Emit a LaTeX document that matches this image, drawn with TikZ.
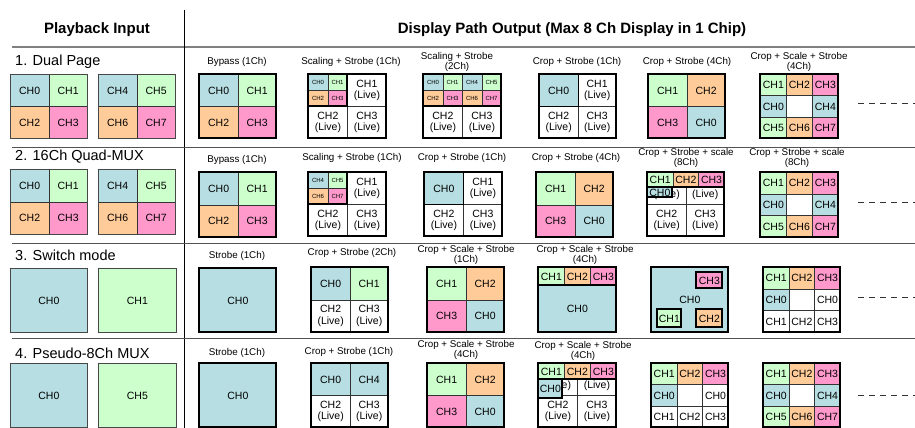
\documentclass[tikz,border=0pt]{standalone}
\usepackage{fontspec}
\setmainfont{Liberation Sans}
\usepackage{xcolor}
\definecolor{cBlue}{HTML}{B7DEE2}
\definecolor{cGreen}{HTML}{CCFFCC}
\definecolor{cOrange}{HTML}{FFCC99}
\definecolor{cPink}{HTML}{FF99CC}
\definecolor{cLine}{HTML}{333333}
\definecolor{cRule}{HTML}{808080}
\usetikzlibrary{positioning}
\newcommand{\chfont}{\fontsize{10.5}{11.5}\selectfont}
\newcommand{\tinychfont}{\fontsize{6}{7}\selectfont}
\newcommand{\capfont}{\fontsize{9.8}{10.5}\selectfont}
\tikzset{
  node-cell/.style={draw=cLine,line width=0.8pt,anchor=north west,
    inner sep=0pt,align=center,font=\chfont},
  node-tiny/.style={font=\tinychfont,line width=0.6pt},
  cell-blue/.style={fill=cBlue},
  cell-green/.style={fill=cGreen},
  cell-orange/.style={fill=cOrange},
  cell-pink/.style={fill=cPink},
  cell-white/.style={fill=white},
  grid-frame/.style={draw=black,line width=1.3pt},
  node-caption/.style={font=\capfont,align=center,inner sep=0pt},
  node-title/.style={font=\fontsize{14.5}{16}\selectfont,anchor=west,inner sep=0pt},
  node-head/.style={font=\bfseries\fontsize{15}{17}\selectfont},
  rule-head/.style={draw=cRule,line width=2pt},
  rule-row/.style={draw=cLine!85,line width=1pt},
  rule-col/.style={draw=black,line width=1pt},
  more-dash/.style={draw=cLine,line width=1pt,dash pattern=on 6pt off 5pt},
}

% \chgrid[cell opts]{name}{x}{y}{w}{h}{cols}{rows}{colour/text,...}
\newcommand{\chgrid}[9][]{%
  \foreach \cfill/\ctext [count=\gi from 0] in {#9} {
    \pgfmathtruncatemacro{\gx}{mod(\gi,#7)}
    \pgfmathtruncatemacro{\gy}{\gi/#7}
    \node[node-cell,cell-\cfill,#1,minimum width=#5pt/#7,minimum height=#6pt/#8]
      (#2-\gi) at ({#3+\gx*#5/#7},{#4+\gy*#6/#8}) {\ctext};
  }
  \draw[grid-frame] (#3,#4) rectangle ++(#5,#6);
}

\begin{document}
\begin{tikzpicture}[x=1pt,y=-1pt]
  \useasboundingbox (0,0) rectangle (915,428);

  \node[node-head] (head-in) at (97,30) {Playback Input};
  \node[node-head] (head-out) at (572,30) {Display Path Output (Max 8 Ch Display in 1 Chip)};
  \draw[rule-head] (12,47) -- (915,47);
  \draw[rule-col] (184,10) -- (184,428);
  \foreach \ry in {147,243,338}
    \draw[rule-row] (12,\ry) -- (915,\ry);

  % playback inputs
  \begin{scope}[grid-frame/.style={draw=cLine!90,line width=1pt}]
    \node[node-title] (title1) at (15,62) {1. Dual Page};
    \chgrid{in1a}{10}{74}{77}{64}{2}{2}{blue/CH0,green/CH1,orange/CH2,pink/CH3}
    \chgrid{in1b}{98}{74}{77}{64}{2}{2}{blue/CH4,green/CH5,orange/CH6,pink/CH7}
    \node[node-title] (title2) at (15,157) {2. 16Ch Quad-MUX};
    \chgrid{in2a}{10}{169}{77}{65}{2}{2}{blue/CH0,green/CH1,orange/CH2,pink/CH3}
    \chgrid{in2b}{98}{169}{77}{65}{2}{2}{blue/CH4,green/CH5,orange/CH6,pink/CH7}
    \node[node-title] (title3) at (15,255) {3. Switch mode};
    \chgrid{in3a}{10}{268}{77}{64}{1}{1}{blue/CH0}
    \chgrid{in3b}{98}{268}{78}{64}{1}{1}{green/CH1}
    \node[node-title] (title4) at (15,353) {4. Pseudo-8Ch MUX};
    \chgrid{in4a}{10}{363}{77}{64}{1}{1}{blue/CH0}
    \chgrid{in4b}{98}{363}{78}{64}{1}{1}{green/CH5}
  \end{scope}

  % 1. Dual Page
  \node[node-caption] (cap1a) at (237,62) {Bypass (1Ch)};
  \chgrid{out1a}{199}{74}{77}{64}{2}{2}{blue/CH0,green/CH1,orange/CH2,pink/CH3}
  \node[node-caption] (cap1b) at (351,62) {Scaling + Strobe (1Ch)};
  \chgrid{out1b}{308}{74}{78}{64}{2}{2}{white/{},white/CH1\\(Live),white/CH2\\(Live),white/CH3\\(Live)}
  \chgrid[node-tiny]{out1b-s}{308}{74}{39}{32}{2}{2}{blue/CH0,green/CH1,orange/CH2,pink/CH3}
  \node[node-caption] (cap1c) at (457,62) {Scaling + Strobe\\(2Ch)};
  \chgrid{out1c}{423}{74}{78}{64}{2}{2}{white/{},white/{},white/CH2\\(Live),white/CH3\\(Live)}
  \chgrid[node-tiny]{out1c-s}{423}{74}{78}{32}{4}{2}{blue/CH0,green/CH1,blue/CH4,green/CH5,orange/CH2,pink/CH3,orange/CH6,pink/CH7}
  \node[node-caption] (cap1d) at (577,62) {Crop + Strobe (1Ch)};
  \chgrid{out1d}{539}{74}{77}{64}{2}{2}{blue/CH0,white/CH1\\(Live),white/CH2\\(Live),white/CH3\\(Live)}
  \draw[grid-frame] (out1d-0.north west) rectangle (out1d-0.south east);
  \node[node-caption] (cap1e) at (687,62) {Crop + Strobe (4Ch)};
  \chgrid{out1e}{648}{74}{77}{64}{2}{2}{green/CH1,orange/CH2,pink/CH3,blue/CH0}
  \node[node-caption] (cap1f) at (799,62) {Crop + Scale + Strobe\\(4Ch)};
  \chgrid{out1f}{760}{74}{78}{64}{3}{3}{green/CH1,orange/CH2,pink/CH3,blue/CH0,white/{},blue/CH4,green/CH5,orange/CH6,pink/CH7}
  \coordinate (more1) at (858,103);
  \coordinate (end1) at (915,103);
  \draw[more-dash] (more1) -- (end1);

  % 2. 16Ch Quad-MUX
  \node[node-caption] (cap2a) at (237,160) {Bypass (1Ch)};
  \chgrid{out2a}{199}{172}{77}{65}{2}{2}{blue/CH0,green/CH1,orange/CH2,pink/CH3}
  \node[node-caption] (cap2b) at (352,158) {Scaling + Strobe (1Ch)};
  \chgrid{out2b}{308}{172}{78}{64}{2}{2}{white/{},white/CH1\\(Live),white/CH2\\(Live),white/CH3\\(Live)}
  \chgrid[node-tiny]{out2b-s}{308}{172}{39}{32}{2}{2}{blue/CH4,green/CH5,orange/CH6,pink/CH7}
  \node[node-caption] (cap2c) at (462,158) {Crop + Strobe (1Ch)};
  \chgrid{out2c}{424}{172}{78}{64}{2}{2}{blue/CH0,white/CH1\\(Live),white/CH2\\(Live),white/CH3\\(Live)}
  \draw[grid-frame] (out2c-0.north west) rectangle (out2c-0.south east);
  \node[node-caption] (cap2d) at (576,158) {Crop + Strobe (4Ch)};
  \chgrid{out2d}{536}{172}{77}{65}{2}{2}{green/CH1,orange/CH2,pink/CH3,blue/CH0}
  \node[node-caption] (cap2e) at (686,158) {Crop + Strobe + scale\\(8Ch)};
  \chgrid{out2e}{647}{172}{77}{64}{2}{2}{white/\strut\\(Live),white/\strut\\(Live),white/CH2\\(Live),white/CH3\\(Live)}
  \chgrid{out2e-s}{647}{172}{77}{15}{3}{1}{green/CH1,orange/CH2,pink/CH3}
  \chgrid{out2e-c0}{647}{187}{25}{10}{1}{1}{blue/CH0}
  \node[node-caption] (cap2f) at (797,158) {Crop + Strobe + scale\\(8Ch)};
  \chgrid{out2f}{760}{172}{78}{65}{3}{3}{green/CH1,orange/CH2,pink/CH3,blue/CH0,white/{},blue/CH4,green/CH5,orange/CH6,pink/CH7}
  \coordinate (more2) at (858,202);
  \coordinate (end2) at (915,202);
  \draw[more-dash] (more2) -- (end2);

  % 3. Switch mode
  \node[node-caption] (cap3a) at (237,256) {Strobe (1Ch)};
  \chgrid{out3a}{199}{268}{77}{64}{1}{1}{blue/CH0}
  \node[node-caption] (cap3b) at (352,253) {Crop + Strobe (2Ch)};
  \chgrid{out3b}{311}{267}{77}{65}{2}{2}{blue/CH0,green/CH1,white/CH2\\(Live),white/CH3\\(Live)}
  \node[node-caption] (cap3c) at (466,255) {Crop + Scale + Strobe\\(1Ch)};
  \chgrid{out3c}{427}{267}{77}{65}{2}{2}{green/CH1,orange/CH2,pink/CH3,blue/CH0}
  \node[node-caption] (cap3d) at (585,255) {Crop + Scale + Strobe\\(4Ch)};
  \chgrid{out3d-s}{538}{267}{78}{18}{3}{1}{green/CH1,orange/CH2,pink/CH3}
  \chgrid{out3d}{538}{285}{78}{47}{1}{1}{blue/CH0}
  \draw[grid-frame] (538,267) rectangle (616,332);
  \chgrid{out3e}{651}{267}{77}{65}{1}{1}{blue/CH0}
  \chgrid{out3e-c3}{696}{272}{26}{16}{1}{1}{pink/CH3}
  \chgrid{out3e-c1}{657}{309}{24}{18}{1}{1}{green/CH1}
  \chgrid{out3e-c2}{696}{309}{26}{18}{1}{1}{orange/CH2}
  \chgrid{out3f}{763}{267}{77}{65}{3}{3}{green/CH1,orange/CH2,pink/CH3,blue/CH0,white/{},white/CH0,white/CH1,white/CH2,white/CH3}
  \coordinate (more3) at (858,297);
  \coordinate (end3) at (915,297);
  \draw[more-dash] (more3) -- (end3);

  % 4. Pseudo-8Ch MUX
  \node[node-caption] (cap4a) at (237,353) {Strobe (1Ch)};
  \chgrid{out4a}{199}{363}{77}{64}{1}{1}{blue/CH0}
  \node[node-caption] (cap4b) at (349,352) {Crop + Strobe (1Ch)};
  \chgrid{out4b}{311}{363}{77}{64}{2}{2}{blue/CH0,blue/CH4,white/CH2\\(Live),white/CH3\\(Live)}
  \node[node-caption] (cap4c) at (466,350) {Crop + Scale + Strobe\\(4Ch)};
  \chgrid{out4c}{427}{363}{77}{64}{2}{2}{green/CH1,orange/CH2,pink/CH3,blue/CH0}
  \node[node-caption] (cap4d) at (583,351) {Crop + Scale + Strobe\\(4Ch)};
  \chgrid{out4d}{538}{363}{78}{64}{2}{2}{white/\strut\\(Live),white/\strut\\(Live),white/CH2\\(Live),white/CH3\\(Live)}
  \chgrid{out4d-s}{538}{363}{78}{16}{3}{1}{green/CH1,orange/CH2,pink/CH3}
  \chgrid{out4d-c0}{538}{379}{24}{19}{1}{1}{blue/CH0}
  \chgrid{out4e}{651}{363}{77}{64}{3}{3}{green/CH1,orange/CH2,pink/CH3,blue/CH0,white/{},white/CH0,white/CH1,white/CH2,white/CH3}
  \chgrid{out4f}{763}{363}{77}{64}{3}{3}{green/CH1,orange/CH2,pink/CH3,blue/CH0,white/{},blue/CH4,green/CH5,orange/CH6,pink/CH7}
  \coordinate (more4) at (858,395);
  \coordinate (end4) at (915,395);
  \draw[more-dash] (more4) -- (end4);
\end{tikzpicture}
\end{document}
